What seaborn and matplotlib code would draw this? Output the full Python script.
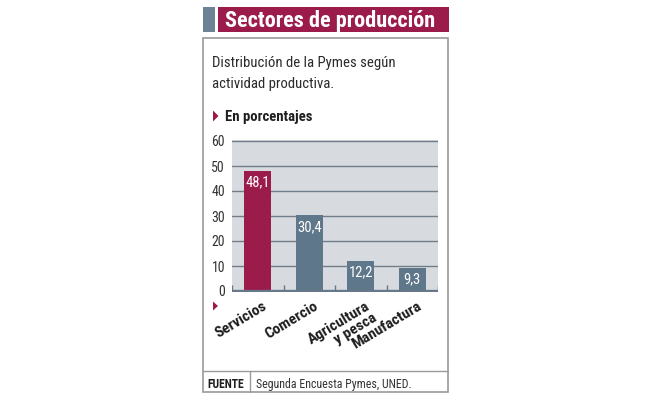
import numpy as np
import matplotlib
matplotlib.use("Agg")
import matplotlib.pyplot as plt
import seaborn as sns
from matplotlib import font_manager
from matplotlib.font_manager import FontProperties
from matplotlib.textpath import TextPath
from matplotlib.patches import Rectangle, Polygon

# Data
categories = ["Servicios", "Comercio", "Agricultura\ny pesca", "Manufactura"]
values = [48.1, 30.4, 12.2, 9.3]
value_labels = ["48,1", "30,4", "12,2", "9,3"]
yticks = [0, 10, 20, 30, 40, 50, 60]

title = "Sectores de producción"
subtitle = ["Distribución de la Pymes según", "actividad productiva."]
unit_label = "En porcentajes"
source_tag = "FUENTE"
source_text = "Segunda Encuesta Pymes, UNED."

CRIMSON = "#9b1b4b"
SLATE = "#5f778b"
W, H = 653, 398

sns.set_theme(style="white")

# look for a narrow family, the reference uses a condensed sans
names = {f.name for f in font_manager.fontManager.ttflist}
narrow_stretch = "normal"
narrow = None
for cand in ["Liberation Sans Narrow", "Roboto Condensed", "Arial Narrow", "Open Sans Condensed"]:
    if cand in names:
        narrow = cand
        break
if narrow is None:
    cond = [f for f in font_manager.fontManager.ttflist
            if f.name == "DejaVu Sans" and str(f.stretch) in ("condensed", "semi-condensed", "700", "600")]
    if cond:
        narrow, narrow_stretch = "DejaVu Sans", "condensed"
    elif "Roboto" in names:
        narrow = "Roboto"
    else:
        narrow = "DejaVu Sans"
plt.rcParams["font.family"] = [narrow, "DejaVu Sans"]
plt.rcParams["font.stretch"] = narrow_stretch


def fit_size(s, width_px, max_size, weight="normal"):
    # font size (pt) so the string is about width_px wide, never above max_size
    fp = FontProperties(family=narrow, weight=weight, stretch=narrow_stretch)
    w100 = TextPath((0, 0), s, size=100, prop=fp).get_extents().width
    return min(max_size, width_px * 0.72 * 100 / w100)


fig = plt.figure(figsize=(W / 100, H / 100), dpi=100)

# background layer in pixel coordinates
bg = fig.add_axes([0, 0, 1, 1], zorder=0)
bg.set_xlim(0, W)
bg.set_ylim(H, 0)
bg.axis("off")

bg.add_patch(Rectangle((203, 7), 12, 25, color="#6d8294", lw=0))
bg.add_patch(Rectangle((218, 7), 231, 25, color=CRIMSON, lw=0))
bg.text(225, 27.5, title, color="white", fontweight="bold", va="baseline",
        fontsize=fit_size(title, 218, 16, "bold"))

bg.add_patch(Rectangle((203, 38), 245, 354, fill=False, edgecolor="#9a9a9a", lw=1.2))
sub_size = fit_size(subtitle[0], 181, 12.5)
bg.text(212, 67, subtitle[0], color="#2b2b2b", fontsize=sub_size, va="baseline")
bg.text(212, 88, subtitle[1], color="#2b2b2b", fontsize=sub_size, va="baseline")

bg.add_patch(Polygon([(213, 110.5), (213, 121.5), (218.5, 116)], color=CRIMSON, lw=0))
bg.text(225, 121, unit_label, color="#1e1e1e", fontweight="bold", va="baseline",
        fontsize=fit_size(unit_label, 86, 11, "bold"))
bg.add_patch(Polygon([(213, 301.5), (213, 310.5), (218, 306)], color=CRIMSON, lw=0))

bg.plot([203, 448], [371, 371], color="#9a9a9a", lw=1.0)
bg.plot([250, 250], [371, 392], color="#9a9a9a", lw=1.0)
bg.text(207, 388, source_tag, color="#1e1e1e", fontweight="bold", va="baseline",
        fontsize=fit_size(source_tag, 36, 8.5, "bold"))
bg.text(256, 388, source_text, color="#333333", va="baseline",
        fontsize=fit_size(source_text, 154, 9))

# chart
ax = fig.add_axes([232 / W, 1 - 292 / H, 206 / W, 152 / H], zorder=1)
ax.set_facecolor("#d7dadf")
palette = [CRIMSON, SLATE, SLATE, SLATE]
sns.barplot(x=list(range(len(values))), y=values, hue=list(range(len(values))),
            palette=palette, legend=False, width=0.53, saturation=1, ax=ax, zorder=3,
            edgecolor="none", linewidth=0)
ax.set_xlim(-0.5, len(values) - 0.5)
ax.set_ylim(-0.4, 60.4)
ax.set_yticks(yticks)
ax.set_yticklabels([str(t) for t in yticks], fontsize=fit_size("60", 15, 10), color="#333333")
ax.set_xticks([])
ax.tick_params(axis="y", length=0, pad=5)
ax.yaxis.grid(True, color="#717d89", lw=1.0)
ax.set_axisbelow(True)
for s in ax.spines.values():
    s.set_visible(False)
ax.set_xlabel("")
ax.set_ylabel("")

# thick baseline with small separators between bars
ax.axhline(0, color="#66788a", lw=2.4, zorder=4)
ax.vlines(np.arange(-0.5, len(values)), 0, 2.4, color="#66788a", lw=1.0, zorder=4)

val_size = fit_size("48,1", 26, 10.5)
cat_size = fit_size("Comercio", 58, 11.5, "bold")
for i, (v, lab) in enumerate(zip(values, value_labels)):
    ax.annotate(lab, xy=(i, v), xytext=(0, -3.5), textcoords="offset points",
                ha="center", va="top", color="white", fontsize=val_size, zorder=5)
    ax.annotate(categories[i], xy=(i, 0), xytext=(3, -6), textcoords="offset points",
                ha="right", va="top", rotation=31, rotation_mode="anchor",
                multialignment="right", fontsize=cat_size, fontweight="bold",
                color="#1e1e1e", annotation_clip=False, linespacing=0.95)

fig.savefig("out.png", dpi=100)
